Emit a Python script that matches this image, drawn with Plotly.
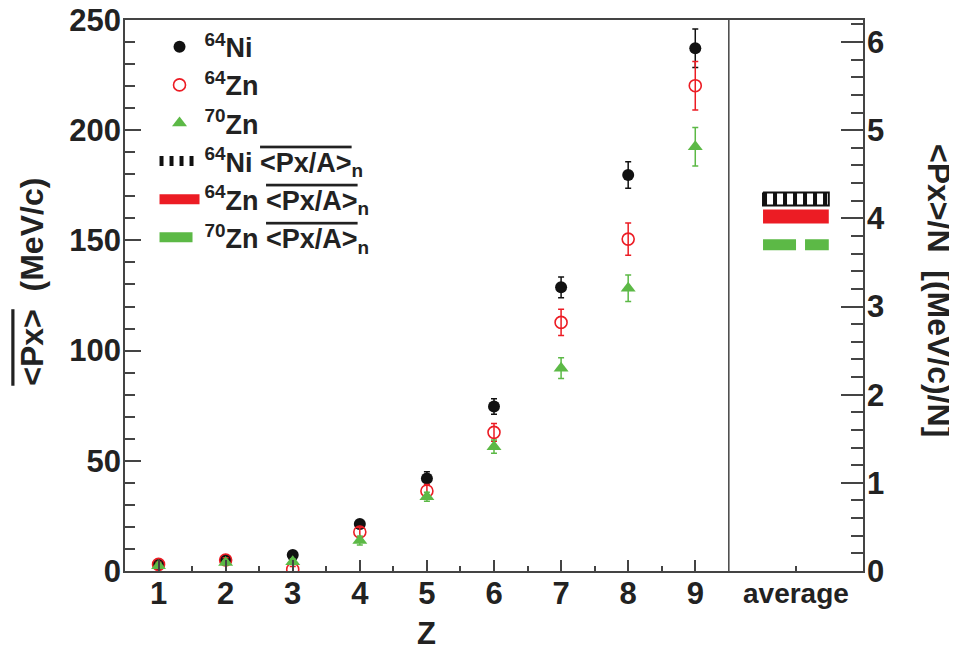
import plotly.graph_objects as go

# ---- data ----
Z = [1, 2, 3, 4, 5, 6, 7, 8, 9]
ni64 = [3.0, 5.0, 7.3, 21.3, 42.0, 74.6, 128.7, 179.7, 237.2]
ni64_err = [1.0, 1.0, 1.2, 2.0, 3.0, 3.5, 4.7, 6.0, 8.7]
zn64 = [3.0, 5.0, 0.8, 17.7, 36.3, 62.9, 112.8, 150.6, 220.2]
zn64_err = [1.0, 1.0, 1.2, 2.0, 3.0, 4.0, 6.0, 7.3, 11.0]
zn70 = [2.4, 3.8, 4.2, 13.8, 33.7, 56.4, 92.0, 128.3, 192.5]
zn70_err = [1.0, 1.0, 1.2, 2.0, 2.0, 3.0, 4.7, 6.0, 8.7]

avg_labels = ["average"]
avg_x = [10.5]
avg_ni64 = [4.22]
avg_zn64 = [4.02]
avg_zn70 = [3.70]

x_ticks = [1, 2, 3, 4, 5, 6, 7, 8, 9]

# ---- styles ----
FONT = "Liberation Sans"
BLACK = "#111111"
RED = "#ec1c24"
GREEN = "#5cb946"
AX = "#444444"
TXT = "#222222"
half_w = 0.49
band_h = 0.074

fig = go.Figure()

fig.add_trace(go.Scatter(
    x=Z, y=ni64, mode="markers", name="<sup>64</sup>Ni",
    marker=dict(symbol="circle", size=12, color=BLACK),
    error_y=dict(type="data", array=ni64_err, color=BLACK, thickness=1.5, width=3)))
fig.add_trace(go.Scatter(
    x=Z, y=zn64, mode="markers", name="<sup>64</sup>Zn",
    marker=dict(symbol="circle-open", size=12, color=RED, line=dict(width=1.6, color=RED)),
    error_y=dict(type="data", array=zn64_err, color=RED, thickness=1.5, width=3)))
fig.add_trace(go.Scatter(
    x=Z, y=zn70, mode="markers", name="<sup>70</sup>Zn",
    marker=dict(symbol="triangle-up", size=13, color=GREEN),
    error_y=dict(type="data", array=zn70_err, color=GREEN, thickness=1.5, width=3)))

ov = "<span style='text-decoration:overline'>&lt;Px/A&gt;</span><sub>n</sub>"

# Ni average: striped band with border
for v in avg_ni64:
    for xc in avg_x:
        fig.add_trace(go.Scatter(
            x=[xc - half_w, xc + half_w], y=[v, v], yaxis="y2", mode="lines",
            name="<sup>64</sup>Ni " + ov,
            line=dict(color=BLACK, width=13, dash="4px,6px")))
        fig.add_trace(go.Scatter(
            x=[xc - half_w, xc + half_w, xc + half_w, xc - half_w, xc - half_w],
            y=[v + band_h, v + band_h, v - band_h, v - band_h, v + band_h],
            yaxis="y2", mode="lines", showlegend=False, hoverinfo="skip",
            line=dict(color=BLACK, width=2)))
fig.add_trace(go.Scatter(
    x=[avg_x[0] - half_w, avg_x[0] + half_w], y=[avg_zn64[0]] * 2, yaxis="y2",
    mode="lines", name="<sup>64</sup>Zn " + ov,
    line=dict(color=RED, width=14)))
fig.add_trace(go.Scatter(
    x=[avg_x[0] - half_w, avg_x[0] + half_w], y=[avg_zn70[0]] * 2, yaxis="y2",
    mode="lines", name="<sup>70</sup>Zn " + ov,
    line=dict(color=GREEN, width=11, dash="33px,9px")))

tickfont = dict(family=FONT, size=31, color=TXT, weight="bold")

fig.update_layout(
    width=949, height=641,
    margin=dict(l=117, r=94, t=12, b=78, autoexpand=False),
    paper_bgcolor="white", plot_bgcolor="white",
    font=dict(family=FONT, color=TXT, weight="bold"),
    showlegend=True,
    legend=dict(x=0.04, y=0.995, xanchor="left", yanchor="top",
                bgcolor="rgba(0,0,0,0)", font=dict(family=FONT, size=27, color=TXT, weight="bold"),
                itemwidth=40, tracegroupgap=0),
    xaxis=dict(range=[0.5, 11.5], tickmode="array", tickvals=x_ticks,
               ticktext=[str(t) for t in x_ticks], automargin=False, ticklabeloverflow="allow",
               ticks="inside", ticklen=11, tickwidth=1.5, tickcolor=AX, ticklabelstandoff=-6,
               minor=dict(tickmode="array", tickvals=[1.5, 2.5, 3.5, 4.5, 5.5, 6.5, 7.5, 8.5] + avg_x,
                          ticks="inside", ticklen=5, tickwidth=1.5, tickcolor=AX),
               showline=True, linecolor=AX, linewidth=1.5, mirror=True,
               showgrid=False, zeroline=False, tickfont=tickfont),
    yaxis=dict(range=[0, 250], tickmode="linear", tick0=0, dtick=50, automargin=False,
               ticklabeloverflow="allow",
               ticks="inside", ticklen=16, tickwidth=1.5, tickcolor=AX, ticklabelstandoff=-4,
               minor=dict(dtick=10, ticks="inside", ticklen=10, tickwidth=1.5, tickcolor=AX),
               showline=True, linecolor=AX, linewidth=1.5,
               showgrid=False, zeroline=False, tickfont=tickfont),
    yaxis2=dict(range=[0, 6.25], overlaying="y", side="right", tickmode="linear", automargin=False,
                ticklabeloverflow="allow",
                tick0=0, dtick=1, ticks="inside", ticklen=22, tickwidth=1.5, tickcolor=AX,
                ticklabelstandoff=-4,
                minor=dict(dtick=0.2, ticks="inside", ticklen=12, tickwidth=1.5, tickcolor=AX),
                showline=True, linecolor=AX, linewidth=1.5,
                showgrid=False, zeroline=False, tickfont=tickfont),
)

# divider between Z panel and average panel
fig.add_shape(type="line", xref="x", yref="paper", x0=9.5, x1=9.5, y0=0, y1=1,
              line=dict(color=AX, width=1.5))

afont = dict(family=FONT, size=32, color=TXT, weight="bold")
fig.add_annotation(text="<span style='text-decoration:overline'>&lt;Px&gt;</span>&nbsp;&nbsp;(MeV/c)",
                   xref="paper", yref="paper", x=-0.126, y=0.525, textangle=-90,
                   showarrow=False, font=afont, xanchor="center", yanchor="middle")
fig.add_annotation(text="<span style='text-decoration:overline'>&lt;Px&gt;/N</span>&nbsp;&nbsp;[(MeV/c)/N]",
                   xref="paper", yref="paper", x=1.103, y=0.51, textangle=90,
                   showarrow=False, font=afont, xanchor="center", yanchor="middle")
fig.add_annotation(text="Z", xref="x", yref="paper", x=5, y=-0.113,
                   showarrow=False, font=dict(family=FONT, size=31, color=TXT, weight="bold"),
                   xanchor="center", yanchor="middle")
fig.add_annotation(text=avg_labels[0], xref="x", yref="paper", x=avg_x[0], y=-0.04,
                   showarrow=False, font=dict(family=FONT, size=28, color=TXT, weight="bold"),
                   xanchor="center", yanchor="middle")

fig.write_html("out.html")
